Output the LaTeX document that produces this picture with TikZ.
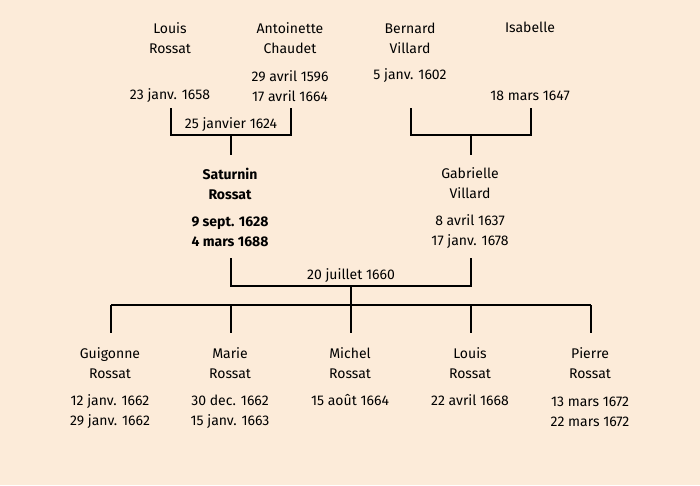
\documentclass[tikz,border=0pt]{standalone}
\usepackage{fontspec}
\setmainfont{Fira Sans}
\definecolor{bg}{HTML}{FCEBD9}
\begin{document}
\begin{tikzpicture}[x=1pt,y=-1pt,
  txt/.style={inner sep=0pt,align=center,font=\fontsize{14}{20}\selectfont,anchor=center},
  btxt/.style={txt,font=\fontsize{14}{20}\selectfont\bfseries},
  ln/.style={line width=2pt}]
\fill[bg] (0,0) rectangle (700,485);
\useasboundingbox (0,0) rectangle (700,485);
% top generation
\node[txt] (n1) at (170,38.5) {Louis\\Rossat};
\node[txt] (n2) at (290,38.5) {Antoinette\\Chaudet};
\node[txt] (n3) at (410,38.5) {Bernard\\Villard};
\node[txt] (n4) at (530,27.5) {Isabelle};
\node[txt] (d1) at (170,95.5) {23 janv. 1658};
\node[txt] (d2) at (290,86.5) {29 avril 1596\\17 avril 1664};
\node[txt] (d3) at (410,75.5) {5 janv. 1602};
\node[txt] (d4) at (530,95.5) {18 mars 1647};
\coordinate (a1) at (171,108); \coordinate (a2) at (291,108);
\coordinate (a3) at (411,108); \coordinate (a4) at (531,108);
\coordinate (m1) at (231,135); \coordinate (m2) at (471,135);
\draw[ln] (a1) |- (m1) -| (a2);
\draw[ln] (a3) |- (m2) -| (a4);
\node[txt] (w1) at (231,124.5) {25 janvier 1624};
% second generation
\node[btxt] (s1) at (230,183.5) {Saturnin\\Rossat};
\node[btxt] (sd1) at (230,231.5) {9 sept. 1628\\4 mars 1688};
\node[txt] (s2) at (470,183.5) {Gabrielle\\Villard};
\node[txt] (sd2) at (470,231.5) {8 avril 1637\\17 janv. 1678};
\coordinate (t1) at (231,155); \coordinate (t2) at (471,155);
\draw[ln] (m1) -- (t1);
\draw[ln] (m2) -- (t2);
\coordinate (b1) at (231,258); \coordinate (b2) at (471,258);
\coordinate (mm) at (351,286);
\draw[ln] (b1) |- (mm) -| (b2);
\node[txt] (w2) at (351,275.5) {20 juillet 1660};
\coordinate (hub) at (351,305);
\draw[ln] (mm) -- (hub);
% children
\foreach \x/\nm/\dt/\dy [count=\i] in {
  110/{Guigonne\\Rossat}/{12 janv. 1662\\29 janv. 1662}/411.5,
  230/{Marie\\Rossat}/{30 dec. 1662\\15 janv. 1663}/411.5,
  350/{Michel\\Rossat}/{15 août 1664}/400.5,
  470/{Louis\\Rossat}/{22 avril 1668}/400.5,
  590/{Pierre\\Rossat}/{13 mars 1672\\22 mars 1672}/411.5}{
  \node[txt] (c\i) at (\x,363.5) {\nm};
  \node[txt] (cd\i) at (\x,\dy) {\dt};
  \coordinate (ct\i) at (\x+1,333);
  \coordinate (ch\i) at (\x+1,305);
}
\draw[ln] (ch1) -- (ch5);
\foreach \i in {1,...,5} \draw[ln] (ch\i) -- (ct\i);
\end{tikzpicture}
\end{document}
